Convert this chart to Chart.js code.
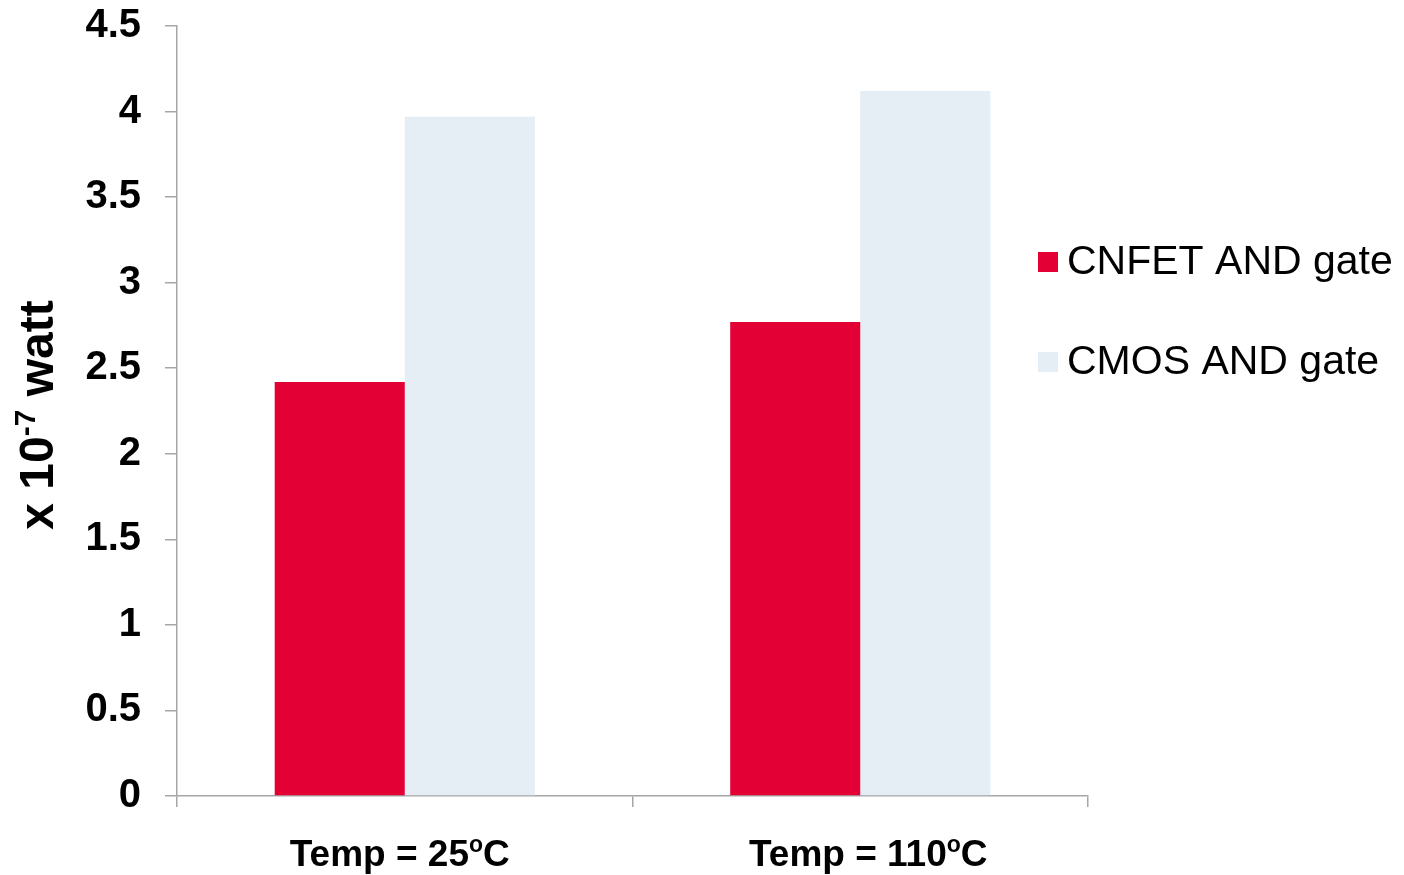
<!DOCTYPE html>
<html>
<head>
<meta charset="utf-8">
<script src="https://cdn.jsdelivr.net/npm/chart.js@4/dist/chart.umd.min.js"></script>
<style>
  html, body { margin: 0; padding: 0; background: #ffffff; }
  #wrap { width: 1404px; height: 875px; position: relative; }
</style>
</head>
<body>
<div id="wrap"><canvas id="c" width="1404" height="875"></canvas></div>
<script>
// Power per gate at two temperatures (units of 10^-7 W)
const temps = ['25', '110'];
const categoryLabels = temps.map(t => 'Temp = ' + t + '\u00B0C');
const seriesNames = ['CNFET AND gate', 'CMOS AND gate'];
const cnfetPower = [2.42, 2.77];
const cmosPower = [3.97, 4.12];
const yTicks = [0, 0.5, 1, 1.5, 2, 2.5, 3, 3.5, 4, 4.5];

const FONT = '"Liberation Sans", Arial, Helvetica, sans-serif';
const RED = '#E30034';
const PALE = '#E5EDF5';
const AXIS = '#A6A6A6';

// Draws bold text with a raised part: parts = [[text, isSup], ...]
function drawRich(ctx, parts, x, y, size) {
  const supSize = Math.round(size * 0.62);
  let total = 0;
  const widths = parts.map(([t, sup]) => {
    ctx.font = 'bold ' + (sup ? supSize : size) + 'px ' + FONT;
    const w = ctx.measureText(t).width;
    total += w;
    return w;
  });
  let cx = x - total / 2;
  parts.forEach(([t, sup], i) => {
    ctx.font = 'bold ' + (sup ? supSize : size) + 'px ' + FONT;
    ctx.fillText(t, cx, sup ? y - size * 0.38 : y);
    cx += widths[i];
  });
}

const labelShift = [-5, 8];

const extras = {
  id: 'extras',
  afterDraw(chart) {
    const ctx = chart.ctx;
    const xs = chart.scales.x;
    ctx.save();
    ctx.fillStyle = '#000';
    ctx.textBaseline = 'alphabetic';
    ctx.textAlign = 'left';
    // category labels with superscript degree mark
    temps.forEach((t, i) => {
      const px = xs.getPixelForValue(i) + labelShift[i];
      drawRich(ctx, [['Temp = ' + t, false], ['o', true], ['C', false]], px, 866, 37);
    });
    // rotated axis title
    ctx.save();
    ctx.translate(53, 415);
    ctx.rotate(-Math.PI / 2);
    drawRich(ctx, [['x 10', false], ['-7', true], [' watt', false]], 0, 0, 48);
    ctx.restore();
    // legend
    const rows = [262, 362];
    chart.data.datasets.forEach((d, i) => {
      ctx.fillStyle = d.backgroundColor;
      ctx.fillRect(1038, rows[i] - 10, 20, 20);
      ctx.fillStyle = '#000';
      ctx.font = '41px ' + FONT;
      ctx.textBaseline = 'middle';
      ctx.fillText(d.label, 1067, rows[i] + 1);
    });
    ctx.restore();
  }
};

new Chart(document.getElementById('c'), {
  type: 'bar',
  data: {
    labels: categoryLabels,
    datasets: [
      { label: seriesNames[0], data: cnfetPower, backgroundColor: RED },
      { label: seriesNames[1], data: cmosPower, backgroundColor: PALE }
    ]
  },
  options: {
    responsive: false,
    animation: false,
    devicePixelRatio: 1,
    layout: { padding: { top: 26, right: 316, left: 0, bottom: 0 } },
    datasets: { bar: { barPercentage: 1.0, categoryPercentage: 0.571 } },
    plugins: { legend: { display: false }, tooltip: { enabled: false } },
    scales: {
      x: {
        afterFit(s) { s.height = 79; s.paddingLeft = 0; s.paddingRight = 0; },
        border: { color: AXIS, width: 1.5 },
        grid: { offset: true, drawOnChartArea: false, drawTicks: true, tickLength: 11, color: AXIS, lineWidth: 1.5 },
        ticks: { display: false }
      },
      y: {
        min: 0, max: 4.5,
        afterFit(s) { s.width = 177; s.paddingTop = 0; s.paddingBottom = 0; },
        afterBuildTicks(s) { s.ticks = yTicks.map(v => ({ value: v })); },
        border: { color: AXIS, width: 1.5 },
        grid: { drawOnChartArea: false, drawTicks: true, tickLength: 12, color: AXIS, lineWidth: 1.5 },
        ticks: {
          padding: 24,
          color: '#000',
          font: { family: FONT, size: 40, weight: 'bold' },
          callback: v => String(v)
        }
      }
    }
  },
  plugins: [extras]
});
</script>
</body>
</html>
